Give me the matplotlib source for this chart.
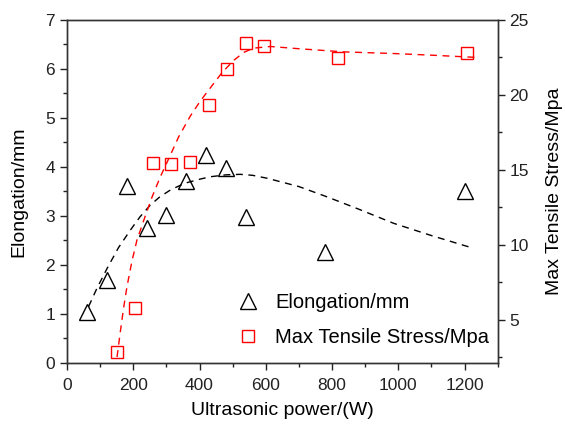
import matplotlib
matplotlib.use("Agg")
import matplotlib.pyplot as plt
import numpy as np

plt.rcParams['font.family'] = ['Liberation Sans', 'DejaVu Sans']

# Elongation data (triangles)
elong_x = [60, 120, 180, 240, 300, 360, 420, 480, 540, 780, 1200]
elong_y = [1.05, 1.70, 3.61, 2.75, 3.02, 3.71, 4.24, 3.98, 2.98, 2.27, 3.51]

# Max tensile stress data (squares)
stress_x = [150, 205, 260, 315, 370, 428, 484, 540, 596, 819, 1208]
stress_y = [2.85, 5.76, 15.47, 15.36, 15.52, 19.3, 21.73, 23.48, 23.24, 22.45, 22.79]

# Fitted trend curves
elong_fit_x = [65, 90, 121, 155, 191, 220, 251, 280, 312, 340, 362, 400, 432, 480, 523, 560, 604, 700, 785, 880, 986, 1100, 1227]
elong_fit_y = [1.15, 1.52, 1.93, 2.35, 2.71, 2.98, 3.22, 3.39, 3.53, 3.62, 3.68, 3.75, 3.80, 3.84, 3.85, 3.83, 3.77, 3.60, 3.39, 3.14, 2.85, 2.60, 2.34]

stress_fit_x = [151, 161, 171, 181, 196, 211, 236, 257, 282, 302, 337, 372, 402, 433, 468, 503, 533, 563, 614, 700, 835, 986, 1100, 1237]
stress_fit_y = [2.5, 4.2, 5.8, 7.2, 8.9, 10.3, 11.9, 13.2, 14.55, 15.5, 17.2, 18.58, 19.58, 20.48, 21.49, 22.3, 22.83, 23.12, 23.23, 23.08, 22.87, 22.76, 22.65, 22.5]

fig = plt.figure(figsize=(5.65, 4.25), dpi=100)
ax = fig.add_axes([0.1186, 0.1459, 0.7624, 0.8071])
ax2 = ax.twinx()

ax.plot(elong_fit_x, elong_fit_y, linestyle=(0, (5, 4)), color='black', lw=1.0)
l1, = ax.plot(elong_x, elong_y, linestyle='none', marker='^', markersize=11,
              markerfacecolor='none', markeredgecolor='black', markeredgewidth=1.0,
              label='Elongation/mm')

ax2.plot(stress_fit_x, stress_fit_y, linestyle=(0, (5, 4)), color='red', lw=1.0)
l2, = ax2.plot(stress_x, stress_y, linestyle='none', marker='s', markersize=8.5,
               markerfacecolor='none', markeredgecolor='red', markeredgewidth=1.0,
               label='Max Tensile Stress/Mpa')

ax.set_xlim(0, 1300)
ax.set_ylim(0, 7)
ax2.set_ylim(2.1, 25)

ax.set_xticks(np.arange(0, 1201, 200))
ax.set_xticks(np.arange(100, 1301, 200), minor=True)
ax.set_yticks(np.arange(0, 8, 1))
ax.set_yticks(np.arange(0.5, 7, 1), minor=True)
ax2.set_yticks([5, 10, 15, 20, 25])
ax2.set_yticks([2.5, 7.5, 12.5, 17.5, 22.5], minor=True)

for a in (ax, ax2):
    a.tick_params(which='major', direction='out', length=5, width=1, labelsize=12.5, colors='#222222')
    a.tick_params(which='minor', direction='out', length=3, width=1, colors='#222222')
    for s in a.spines.values():
        s.set_color('#333333')
        s.set_linewidth(1.0)
ax.tick_params(axis='x', which='major', pad=5.5)

ax.set_xlabel('Ultrasonic power/(W)', fontsize=14, labelpad=7)
ax.set_ylabel('Elongation/mm', fontsize=14, labelpad=13)
ax2.set_ylabel('Max Tensile Stress/Mpa', fontsize=14, labelpad=12)

leg = ax.legend(handles=[l1, l2], loc='lower right', frameon=False, fontsize=14.5,
                bbox_to_anchor=(1.022, -0.005), handletextpad=0.35, labelspacing=0.75)

fig.savefig('out.png', dpi=100)
